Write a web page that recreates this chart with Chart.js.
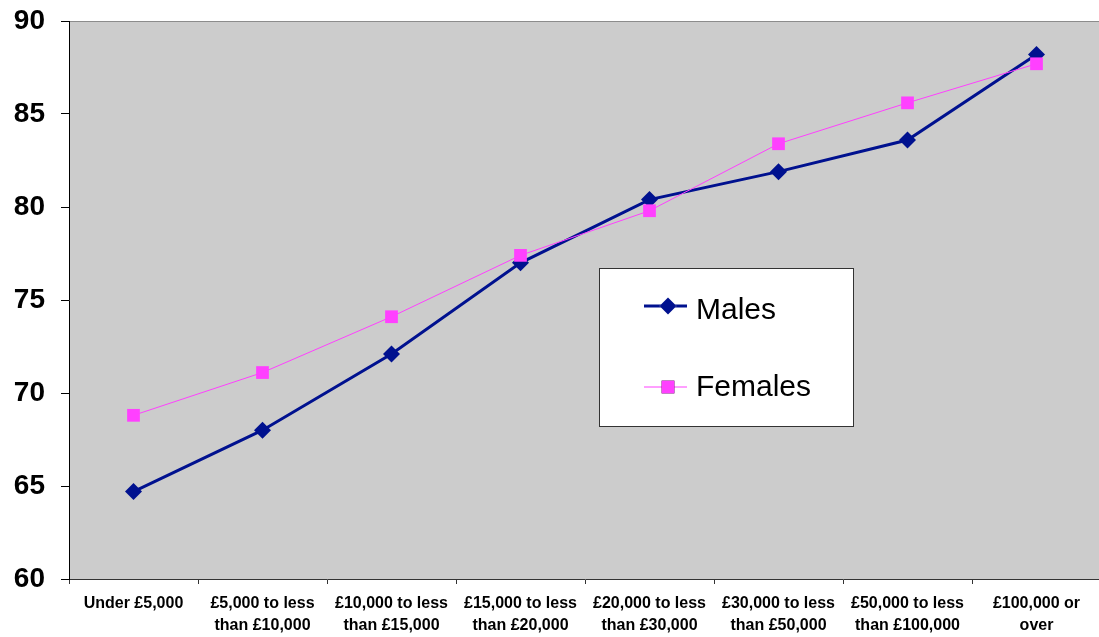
<!DOCTYPE html>
<html>
<head>
<meta charset="utf-8">
<script src="https://cdn.jsdelivr.net/npm/chart.js@4.4.1/dist/chart.umd.min.js"></script>
<style>
    html, body { margin: 0; padding: 0; background: #fff; overflow: hidden; }
    #wrap { width: 1099px; height: 637px; overflow: hidden; }
</style>
</head>
<body>
<div id="wrap"><canvas id="chart" width="1110" height="637"></canvas></div>
<script>
    "use strict";

    var incomeBands = [
        ["Under £5,000"],
        ["£5,000 to less", "than £10,000"],
        ["£10,000 to less", "than £15,000"],
        ["£15,000 to less", "than £20,000"],
        ["£20,000 to less", "than £30,000"],
        ["£30,000 to less", "than £50,000"],
        ["£50,000 to less", "than £100,000"],
        ["£100,000 or", "over"]
    ];
    var malesValues = [64.7, 68.0, 72.1, 77.0, 80.4, 81.9, 83.6, 88.2];
    var femalesValues = [68.8, 71.1, 74.1, 77.4, 79.8, 83.4, 85.6, 87.7];
    var yTicks = [60, 65, 70, 75, 80, 85, 90];

    var MALE_COLOR = "#00118f";
    var FEMALE_COLOR = "#ff40ff";
    var FONT = "'Liberation Sans', Arial, sans-serif";

    // grey plot background with a thin top border
    var plotArea = {
        id: "plotArea",
        beforeDraw: function(chart) {
            var a = chart.chartArea;
            var ctx = chart.ctx;
            ctx.save();
            ctx.fillStyle = "#cccccc";
            ctx.fillRect(a.left, a.top, a.right - a.left, a.bottom - a.top);
            ctx.strokeStyle = "#8c8c8c";
            ctx.lineWidth = 1;
            ctx.beginPath();
            ctx.moveTo(a.left, a.top + 0.5);
            ctx.lineTo(a.right, a.top + 0.5);
            ctx.stroke();
            ctx.restore();
        }
    };

    // boxed legend sitting inside the plot
    var boxLegend = {
        id: "boxLegend",
        afterDatasetsDraw: function(chart) {
            var ctx = chart.ctx;
            var box = { x: 599.5, y: 268.5, w: 254, h: 158 };
            ctx.save();
            ctx.fillStyle = "#ffffff";
            ctx.fillRect(box.x, box.y, box.w, box.h);
            ctx.strokeStyle = "#333333";
            ctx.lineWidth = 1;
            ctx.strokeRect(box.x, box.y, box.w, box.h);

            var rows = [
                { ds: chart.data.datasets[1], y: 306, ty: 311 },
                { ds: chart.data.datasets[0], y: 387, ty: 388 }
            ];
            rows.forEach(function(r) {
                var ds = r.ds;
                ctx.strokeStyle = ds.borderColor;
                ctx.lineWidth = ds.borderWidth;
                ctx.beginPath();
                ctx.moveTo(644, r.y);
                ctx.lineTo(687, r.y);
                ctx.stroke();
                Chart.helpers.drawPoint(ctx, {
                    pointStyle: ds.pointStyle,
                    radius: ds.pointRadius,
                    borderWidth: 0
                }, 668, r.y);
                ctx.fillStyle = ds.pointBackgroundColor;
                ctx.fill();
                ctx.fillStyle = "#000000";
                ctx.font = "30px " + FONT;
                ctx.textBaseline = "middle";
                ctx.textAlign = "left";
                ctx.fillText(ds.label, 696, r.ty);
            });
            ctx.restore();
        }
    };

    var ctx = document.getElementById("chart").getContext("2d");
    var chart = new Chart(ctx, {
        type: "line",
        data: {
            labels: incomeBands,
            datasets: [
                {
                    label: "Females",
                    data: femalesValues,
                    borderColor: FEMALE_COLOR,
                    borderWidth: 1,
                    pointStyle: "rect",
                    pointRadius: 9,
                    pointBackgroundColor: FEMALE_COLOR,
                    pointBorderColor: FEMALE_COLOR,
                    pointBorderWidth: 0,
                    tension: 0,
                    order: 0
                },
                {
                    label: "Males",
                    data: malesValues,
                    borderColor: MALE_COLOR,
                    borderWidth: 3,
                    pointStyle: "rectRot",
                    pointRadius: 8.5,
                    pointBackgroundColor: MALE_COLOR,
                    pointBorderColor: MALE_COLOR,
                    pointBorderWidth: 0,
                    tension: 0,
                    order: 1
                }
            ]
        },
        options: {
            responsive: false,
            animation: false,
            layout: { padding: { top: 21, right: 0, left: 0, bottom: 0 } },
            plugins: {
                legend: { display: false },
                tooltip: { enabled: false }
            },
            scales: {
                x: {
                    offset: true,
                    grid: {
                        offset: true,
                        drawOnChartArea: false,
                        drawTicks: true,
                        tickLength: 5,
                        color: "#333333"
                    },
                    border: { color: "#333333", width: 1 },
                    ticks: {
                        autoSkip: false,
                        maxRotation: 0,
                        padding: 9,
                        color: "#000000",
                        font: { family: FONT, size: 16, weight: "bold", lineHeight: 1.35 }
                    },
                    afterFit: function(scale) {
                        scale.height = 58;
                        scale.paddingLeft = 0;
                        scale.paddingRight = 0;
                    }
                },
                y: {
                    min: 60,
                    max: 90,
                    afterBuildTicks: function(scale) {
                        scale.ticks = yTicks.map(function(v) { return { value: v }; });
                    },
                    grid: {
                        drawOnChartArea: false,
                        drawTicks: true,
                        tickLength: 8,
                        color: "#000000"
                    },
                    border: { color: "#000000", width: 1 },
                    ticks: {
                        padding: 16,
                        color: "#000000",
                        font: { family: FONT, size: 28, weight: "bold" }
                    },
                    afterFit: function(scale) {
                        scale.width = 69;
                        scale.paddingTop = 0;
                        scale.paddingBottom = 0;
                    }
                }
            }
        },
        plugins: [plotArea, boxLegend]
    });
</script>
</body>
</html>
